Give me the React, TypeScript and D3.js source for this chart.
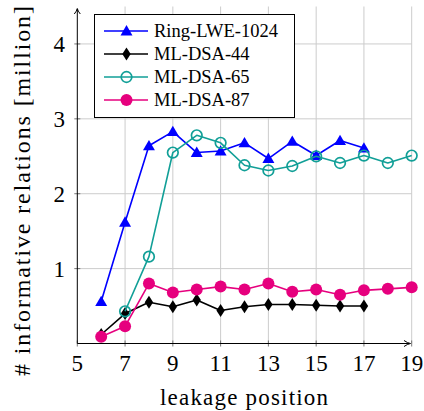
import * as d3 from "d3";

const positions = [5, 7, 9, 11, 13, 15, 17, 19];
const yTicks = [1, 2, 3, 4];

const ringX = [6, 7, 8, 9, 10, 11, 12, 13, 14, 15, 16, 17];
const ringY = [0.56, 1.62, 2.64, 2.83, 2.55, 2.57, 2.68, 2.47, 2.7, 2.51, 2.71, 2.61];

const dsa44X = [6, 7, 8, 9, 10, 11, 12, 13, 14, 15, 16, 17];
const dsa44Y = [0.12, 0.4, 0.55, 0.49, 0.58, 0.44, 0.49, 0.52, 0.52, 0.51, 0.5, 0.5];

const dsa65X = [7, 8, 9, 10, 11, 12, 13, 14, 15, 16, 17, 18, 19];
const dsa65Y = [0.43, 1.16, 2.55, 2.78, 2.68, 2.38, 2.31, 2.37, 2.5, 2.41, 2.51, 2.41, 2.51];

const dsa87X = [6, 7, 8, 9, 10, 11, 12, 13, 14, 15, 16, 17, 18, 19];
const dsa87Y = [0.09, 0.23, 0.8, 0.68, 0.72, 0.76, 0.72, 0.8, 0.69, 0.72, 0.65, 0.71, 0.73, 0.75];

const series = [
  { name: "Ring-LWE-1024", xs: ringX, ys: ringY, color: "#0000ff", mark: "triangle" },
  { name: "ML-DSA-44", xs: dsa44X, ys: dsa44Y, color: "#000000", mark: "diamond" },
  { name: "ML-DSA-65", xs: dsa65X, ys: dsa65Y, color: "#119f97", mark: "ocircle" },
  { name: "ML-DSA-87", xs: dsa87X, ys: dsa87Y, color: "#e6007e", mark: "circle" },
];

const serif = { fontFamily: '"Liberation Serif", "Times New Roman", Times, "DejaVu Serif", serif' };

function Marker({ kind, color, x, y }) {
  if (kind === "triangle") {
    const p = d3.symbol().type(d3.symbolTriangle).size(62)();
    return <path d={p} transform={`translate(${x},${y + 1})`} fill={color} />;
  }
  if (kind === "diamond") {
    return <path d="M0,-6.5L4.2,0L0,6.5L-4.2,0Z" transform={`translate(${x},${y})`} fill={color} />;
  }
  if (kind === "ocircle") {
    return <circle cx={x} cy={y} r={5.3} fill="none" stroke={color} strokeWidth={1.7} />;
  }
  return <circle cx={x} cy={y} r={6} fill={color} />;
}

export default function App() {
  const x = d3.scaleLinear().domain([5, 19]).range([77.3, 411.7]);
  const y = d3.scaleLinear().domain([0, 4.5]).range([343.5, 6.5]);
  const line = d3.line();

  const x0 = x(5);
  const yB = y(0);

  return (
    <svg width={424} height={411} style={{ position: "absolute", left: 0, top: 0, ...serif }}>
      <rect width={424} height={411} fill="#fff" />
      {/* grid */}
      <g stroke="#cccccc" strokeWidth={1}>
        {positions.slice(1).map((t) => (
          <line key={t} x1={x(t)} x2={x(t)} y1={y(4.5)} y2={yB} />
        ))}
        {yTicks.map((t) => (
          <line key={t} x1={x0} x2={x(19)} y1={y(t)} y2={y(t)} />
        ))}
      </g>
      {/* ticks */}
      <g stroke="#555" strokeWidth={0.8}>
        {positions.map((t) => (
          <line key={t} x1={x(t)} x2={x(t)} y1={yB - 3} y2={yB + 3} />
        ))}
        {yTicks.map((t) => (
          <line key={t} x1={x0 - 3} x2={x0 + 3} y1={y(t)} y2={y(t)} />
        ))}
      </g>
      {/* axes */}
      <g stroke="#000" strokeWidth={1} fill="none">
        <line x1={x0} x2={x0} y1={yB} y2={9} />
        <line x1={x0} x2={409} y1={yB} y2={yB} />
        <path d={`M${x0 - 3},${14}Q${x0 - 0.5},${11} ${x0},${8.5}Q${x0 + 0.5},${11} ${x0 + 3},${14}`} />
        <path d={`M${404},${yB - 3}Q${407.5},${yB - 0.5} ${410.5},${yB}Q${407.5},${yB + 0.5} ${404},${yB + 3}`} />
      </g>
      {/* tick labels */}
      <g style={{ ...serif, fontSize: 23 }} fill="#000">
        {positions.map((t) => (
          <text key={t} x={x(t)} y={371} textAnchor="middle">
            {t}
          </text>
        ))}
        {yTicks.map((t) => (
          <text key={t} x={65} y={y(t) + 8} textAnchor="end">
            {t}
          </text>
        ))}
      </g>
      <text
        x={244}
        y={405}
        textAnchor="middle"
        style={{ ...serif, fontSize: 23 }}
        textLength={168}
        lengthAdjust="spacing"
      >
        leakage position
      </text>
      <text
        transform="translate(30,191) rotate(-90)"
        textAnchor="middle"
        style={{ ...serif, fontSize: 24 }}
        textLength={370}
        lengthAdjust="spacing"
      >
        # informative relations [million]
      </text>
      {/* series */}
      {series.map((s) => {
        const pts = s.xs.map((v, i) => [x(v), y(s.ys[i])]);
        return (
          <g key={s.name}>
            <path d={line(pts)} fill="none" stroke={s.color} strokeWidth={1.6} strokeLinejoin="round" />
            {pts.map((p, i) => (
              <Marker key={i} kind={s.mark} color={s.color} x={p[0]} y={p[1]} />
            ))}
          </g>
        );
      })}
      {/* legend */}
      <g>
        <rect x={94.5} y={14.5} width={200} height={103} fill="#fff" stroke="#000" strokeWidth={1} />
        {series.map((s, i) => {
          const ly = 31 + i * 23;
          return (
            <g key={s.name}>
              <line x1={104} x2={148} y1={ly} y2={ly} stroke={s.color} strokeWidth={1.6} />
              <Marker kind={s.mark} color={s.color} x={126.5} y={ly} />
              <text x={154} y={ly + 6} style={{ ...serif, fontSize: 18.5 }}>
                {s.name}
              </text>
            </g>
          );
        })}
      </g>
    </svg>
  );
}
